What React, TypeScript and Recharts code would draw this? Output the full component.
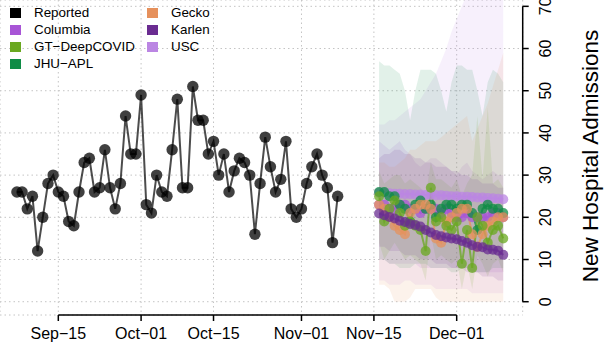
import React from 'react';
import {
  ComposedChart,
  Line,
  Area,
  XAxis,
  YAxis,
  CartesianGrid,
  Legend,
  ReferenceLine,
} from 'recharts';

// days are counted from Sep-15
const reportedFirstDay = -8; // Sep-07
const reported = [
  26, 26, 22, 25, 12, 20, 28, 30, 26, 25, 19, 18, 26, 33, 34, 26, 27, 36, 27, 22, 28, 44, 35, 35,
  49, 23, 21, 30, 26, 25, 36, 48, 27, 27, 51, 43, 43, 35, 38, 30, 35, 26, 31, 34, 33, 30, 16, 28,
  39, 32, 26, 29, 38, 22, 20, 22, 28, 32, 35, 30, 27, 14, 25,
];

const forecastFirstDay = 62; // Nov-16
const columbia = [23, 23, 22, 22, 23, 23, 22, 22, 21, 22, 22, 22, 21, 22, 21, 20, 20, 21, 20, 20, 20, 20, 21, 21, 20];
const columbiaLow = [10, 10, 9, 9, 9, 9, 9, 9, 8, 8, 8, 8, 8, 8, 8, 8, 8, 8, 7, 7, 7, 7, 7, 7, 7];
const columbiaHigh = [38, 37, 36, 37, 38, 36, 35, 33, 32, 33, 34, 34, 33, 32, 31, 30, 32, 33, 31, 30, 29, 30, 31, 30, 30];

const gt = [25, 19, 22, 24, 21, 18, 19, 18, 17, 12, 27, 19, 20, 18, 17, 19, 9, 17, 8, 20, 18, 14, 17, 18, 15];
const gtLow = [14, 10, 12, 14, 12, 10, 11, 10, 9, 5, 16, 10, 11, 10, 9, 10, 3, 9, 3, 11, 9, 6, 9, 10, 7];
const gtHigh = [31, 28, 29, 30, 30, 28, 29, 28, 27, 25, 33, 29, 29, 28, 27, 29, 25, 28, 30, 44, 29, 46, 28, 29, 27];

const jhu = [26, 26, 25, 25, 23, 22, 19, 23, 24, 22, 23, 20, 22, 23, 23, 22, 23, 23, 21, 17, 22, 23, 22, 22, 21];
const jhuLow = [10, 10, 9, 9, 8, 8, 8, 9, 9, 9, 8, 8, 8, 8, 7, 7, 8, 8, 7, 7, 7, 7, 8, 8, 8];
const jhuHigh = [57, 56, 56, 55, 54, 50, 43, 50, 55, 55, 55, 54, 50, 45, 52, 56, 56, 55, 55, 50, 44, 52, 55, 54, 52];

const gecko = [23, 22, 20, 18, 17, 16, 21, 22, 23, 23, 22, 15, 14, 19, 20, 21, 22, 22, 16, 13, 16, 18, 19, 20, 20];
const geckoLow = [4, 4, 3, 0, 0, 0, 1, 3, 3, 3, 3, 1, 0, 0, 0, 0, 0, 0, 0, 0, 0, 0, 0, 0, 0];
const geckoHigh = [33, 33, 32, 32, 33, 34, 36, 36, 37, 38, 38, 38, 39, 40, 41, 42, 43, 44, 38, 41, 44, 47, 51, 55, 59];

const karlen = [20.9, 20.5, 20.1, 19.7, 19.2, 18.9, 18.4, 18.2, 17.8, 17.0, 16.4, 15.8, 15.5, 15.2, 15.0, 14.8, 14.4, 14.0, 13.4, 13.0, 12.9, 12.4, 12.3, 12.1, 11.1];
const karlenLow = [13, 13, 12, 12, 12, 11, 11, 11, 10, 10, 10, 9, 9, 9, 8, 8, 8, 7, 7, 7, 6, 6, 6, 5, 5];
const karlenHigh = [34, 35, 35, 36, 36, 35, 35, 34, 34, 33, 33, 32, 32, 32, 31, 31, 30, 30, 29, 29, 28, 28, 28, 27, 27];

const usc = [25.8, 25.8, 25.7, 25.6, 25.6, 25.5, 25.5, 25.4, 25.4, 25.3, 25.3, 25.2, 25.2, 25.1, 25.0, 25.0, 24.9, 24.9, 24.8, 24.7, 24.7, 24.6, 24.5, 24.4, 24.3];
const uscLow = [5, 5, 4, 4, 4, 5, 5, 4, 4, 4, 4, 3, 3, 3, 3, 3, 3, 3, 2, 2, 2, 2, 2, 2, 2];
const uscHigh = [42, 42, 43, 43, 44, 45, 46, 47, 48, 50, 52, 54, 57, 60, 64, 67, 70, 73, 76, 79, 82, 85, 88, 91, 94];

const xTicks = [0, 16, 30, 47, 61, 77];
const xTickLabels = ['Sep\u221215', 'Oct\u221201', 'Oct\u221215', 'Nov\u221201', 'Nov\u221215', 'Dec\u221201'];
const yTicks = [0, 10, 20, 30, 40, 50, 60, 70];

const models = [
  { key: 'usc', name: 'USC', color: '#bb86e3', values: usc, low: uscLow, high: uscHigh },
  { key: 'columbia', name: 'Columbia', color: '#a855d6', values: columbia, low: columbiaLow, high: columbiaHigh },
  { key: 'jhu', name: 'JHU\u2212APL', color: '#0f8c46', values: jhu, low: jhuLow, high: jhuHigh },
  { key: 'gecko', name: 'Gecko', color: '#e6915c', values: gecko, low: geckoLow, high: geckoHigh },
  { key: 'gt', name: 'GT\u2212DeepCOVID', color: '#6aa820', values: gt, low: gtLow, high: gtHigh },
  { key: 'karlen', name: 'Karlen', color: '#6a2c91', values: karlen, low: karlenLow, high: karlenHigh },
];

const legendItems = [
  { name: 'Reported', color: '#000000' },
  { name: 'Columbia', color: '#a855d6' },
  { name: 'GT\u2212DeepCOVID', color: '#6aa820' },
  { name: 'JHU\u2212APL', color: '#0f8c46' },
  { name: 'Gecko', color: '#e6915c' },
  { name: 'Karlen', color: '#6a2c91' },
  { name: 'USC', color: '#bb86e3' },
];

const FONT = '"Liberation Sans", Arial, Helvetica, sans-serif';

// build one row per day
const rows: any[] = [];
const lastDay = forecastFirstDay + karlen.length - 1;
for (let d = reportedFirstDay; d <= lastDay; d++) {
  const row: any = { day: d };
  const ri = d - reportedFirstDay;
  if (ri < reported.length) row.reported = reported[ri];
  const fi = d - forecastFirstDay;
  if (fi >= 0) {
    models.forEach((m) => {
      row[m.key] = m.values[fi];
      row[m.key + 'Band'] = [m.low[fi], m.high[fi]];
    });
  }
  rows.push(row);
}

const XTick = (props: any) => {
  const { x, payload } = props;
  const i = xTicks.indexOf(payload.value);
  return (
    <text x={x} y={339} textAnchor="middle" fontSize={16} fontFamily={FONT} fill="#000">
      {xTickLabels[i]}
    </text>
  );
};

const YTick = (props: any) => {
  const { y, payload } = props;
  return (
    <text
      x={0}
      y={0}
      transform={`translate(550.5, ${y}) rotate(-90)`}
      textAnchor="middle"
      fontSize={16}
      fontFamily={FONT}
      fill="#000"
    >
      {payload.value}
    </text>
  );
};

const LegendBox = () => (
  <div style={{ position: 'relative', width: 300, height: 75, fontFamily: FONT, fontSize: 13.4 }}>
    {legendItems.map((it, i) => {
      const col = i < 4 ? 0 : 1;
      const row = i < 4 ? i : i - 4;
      const left = col === 0 ? 10 : 147;
      const top = 12.7 + row * 17;
      return (
        <div key={it.name}>
          <div
            style={{
              position: 'absolute',
              left,
              top: top - 5,
              width: 10.5,
              height: 10,
              background: it.color,
            }}
          />
          <div style={{ position: 'absolute', left: left + 24, top: top - 8, lineHeight: '16px', color: '#000', whiteSpace: 'nowrap' }}>
            {it.name}
          </div>
        </div>
      );
    })}
  </div>
);

export default function App() {
  return (
    <div style={{ position: 'absolute', left: 0, top: 0, width: 605, height: 350, background: '#fff' }}>
      <ComposedChart width={605} height={350} data={rows} margin={{ top: 0, right: 0, bottom: 0, left: 0 }}>
        <CartesianGrid stroke="#c4c4c4" strokeDasharray="1.5 3" strokeWidth={1} />
        <XAxis
          dataKey="day"
          type="number"
          domain={[-11.27, 89.76]}
          allowDataOverflow
          ticks={xTicks}
          tick={<XTick />}
          tickLine={{ stroke: '#000', strokeWidth: 1.5 }}
          tickSize={6}
          axisLine={false}
          height={35}
          interval={0}
        />
        <YAxis
          orientation="right"
          type="number"
          domain={[-3.15, 71.5]}
          allowDataOverflow
          ticks={yTicks}
          tick={<YTick />}
          tickLine={{ stroke: '#000', strokeWidth: 1.5 }}
          tickSize={6}
          axisLine={false}
          width={82.3}
          interval={0}
          label={{
            value: 'New Hospital Admissions',
            angle: -90,
            position: 'insideRight',
            offset: 0,
            content: () => (
              <text
                x={0}
                y={0}
                transform="translate(598, 156) rotate(-90)"
                textAnchor="middle"
                fontSize={22.5}
                fontFamily={FONT}
                fill="#000"
              >
                New Hospital Admissions
              </text>
            ),
          }}
        />
        <Legend
          verticalAlign="middle"
          align="center"
          layout="horizontal"
          wrapperStyle={{ top: 0, left: 0, width: 300, height: 75 }}
          content={() => <LegendBox />}
        />
        {models.map((m) => (
          <Area
            key={m.key + 'Band'}
            dataKey={m.key + 'Band'}
            type="linear"
            stroke="none"
            fill={m.color}
            fillOpacity={0.12}
            isAnimationActive={false}
            connectNulls={false}
            legendType="none"
            activeDot={false}
          />
        ))}
        {models.map((m) => (
          <Line
            key={m.key}
            dataKey={m.key}
            type="linear"
            stroke={m.color}
            strokeOpacity={0.75}
            strokeWidth={2}
            dot={{ r: 5, fill: m.color, fillOpacity: 0.75, stroke: 'none', strokeWidth: 0 }}
            activeDot={false}
            isAnimationActive={false}
            legendType="none"
          />
        ))}
        <Line
          dataKey="reported"
          type="linear"
          stroke="#000"
          strokeOpacity={0.7}
          strokeWidth={2}
          dot={{ r: 5.7, fill: '#000', fillOpacity: 0.75, stroke: 'none', strokeWidth: 0 }}
          activeDot={false}
          isAnimationActive={false}
          legendType="none"
        />
        <ReferenceLine
          segment={[{ x: 0, y: -3.15 }, { x: 77, y: -3.15 }]}
          stroke="#000"
          strokeWidth={1.5}
          ifOverflow="visible"
        />
        <ReferenceLine
          segment={[{ x: 89.76, y: 0 }, { x: 89.76, y: 70 }]}
          stroke="#000"
          strokeWidth={1.5}
          ifOverflow="visible"
        />
      </ComposedChart>
    </div>
  );
}
